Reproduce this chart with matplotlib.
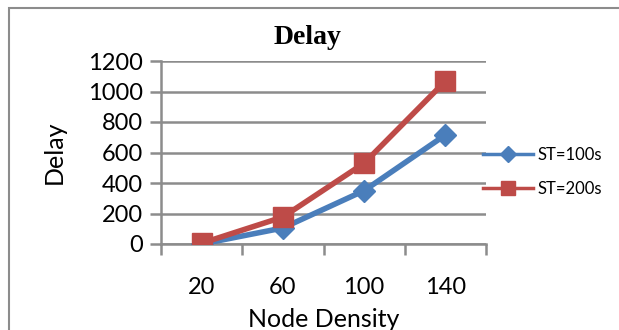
import matplotlib.pyplot as plt
from matplotlib.patches import Rectangle

# Delay vs node density for two ST settings
node_density = ['20', '60', '100', '140']
delay_st100 = [0, 105, 350, 715]
delay_st200 = [5, 177, 530, 1068]

blue = '#4A7EBB'
red = '#BE4B48'
grid_gray = '#8C8C8C'

fig = plt.figure(figsize=(6.19, 3.30), dpi=100)
W, H = 619, 330

# outer chart border
fig.patches.append(Rectangle((9 / W, -0.1), 1.2, (H - 8) / H + 0.1,
                             transform=fig.transFigure, fill=False,
                             edgecolor=grid_gray, linewidth=1.5))

ax = fig.add_axes([161 / W, 1 - 244 / H, (486 - 161) / W, (244 - 61) / H])

x = range(len(node_density))
ax.plot(x, delay_st100, color=blue, linewidth=4, marker='D', markersize=11,
        label='ST=100s', zorder=3)
ax.plot(x, delay_st200, color=red, linewidth=4, marker='s', markersize=14,
        label='ST=200s', zorder=4)

ax.set_xlim(-0.5, 3.5)
ax.set_ylim(0, 1200)
ax.set_yticks(range(0, 1201, 200))
ax.set_xticks(list(x))
ax.set_xticklabels(node_density)
ax.set_xticks([-0.5, 0.5, 1.5, 2.5, 3.5], minor=True)

font = 'Lato'
ax.yaxis.grid(True, color=grid_gray, linewidth=1.8)
ax.set_axisbelow(True)
for s in ['top', 'right']:
    ax.spines[s].set_visible(False)
ax.spines['left'].set_color(grid_gray)
ax.spines['left'].set_linewidth(1.8)
ax.spines['bottom'].set_color(grid_gray)
ax.spines['bottom'].set_linewidth(1.8)
ax.tick_params(axis='y', length=8, width=1.8, color=grid_gray, pad=5,
               labelsize=17)
ax.tick_params(axis='x', which='major', length=0, pad=24, labelsize=17)
ax.tick_params(axis='x', which='minor', length=8, width=1.8, color=grid_gray)
for lbl in ax.get_xticklabels() + ax.get_yticklabels():
    lbl.set_family(font)

ax.set_ylabel('Delay', fontsize=18, family=font, labelpad=16)
ax.set_xlabel('Node Density', fontsize=18, family=font, labelpad=7)
fig.text(308 / W, 1 - 38 / H, 'Delay', ha='center', va='center',
         fontsize=20, fontweight='bold', family='Liberation Serif')

ax.legend(loc='center left', bbox_to_anchor=(483 / W, 1 - 172 / H),
          bbox_transform=fig.transFigure, frameon=False,
          prop={'family': font, 'size': 12}, handlelength=3.0,
          handletextpad=0.3, labelspacing=1.1, markerscale=0.75,
          borderaxespad=0, borderpad=0)
for line in ax.get_legend().get_lines():
    line.set_linewidth(2.5)

fig.savefig('out.png', dpi=100)
